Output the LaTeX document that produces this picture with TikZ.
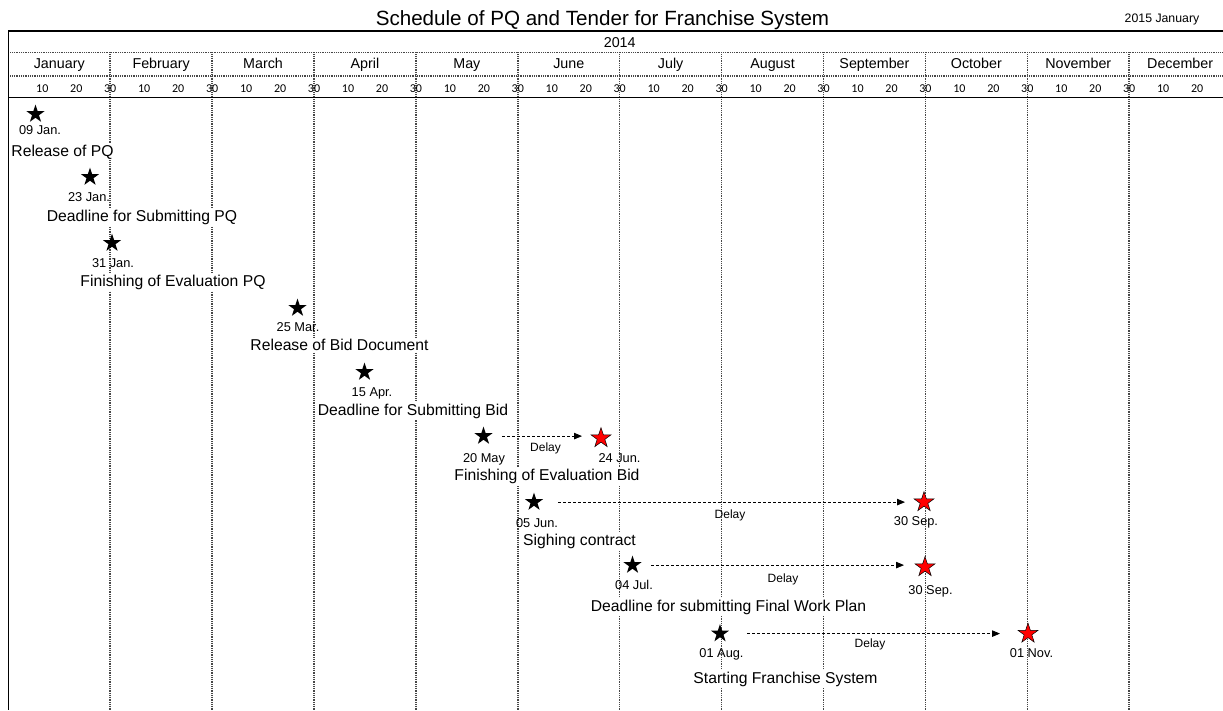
\documentclass[tikz,border=0pt]{standalone}
\usepackage{fontspec}
\setmainfont{Liberation Sans}
\newfontfamily\dayfont{Carlito}
\usetikzlibrary{shapes.geometric,arrows.meta}

\begin{document}
\begin{tikzpicture}[x=1pt,y=-1pt,
  every node/.style={inner sep=0pt,outer sep=0pt},
  frame/.style={draw=black,line width=1.5pt},
  sep/.style={draw=black!72,line width=1.5pt,dash pattern=on 1pt off 0.8pt},
  titlelbl/.style={font=\fontsize{20.6}{24}\selectfont,anchor=base},
  notelbl/.style={font=\fontsize{12.3}{14}\selectfont,anchor=base},
  monthlbl/.style={font=\fontsize{14.3}{16}\selectfont,anchor=base},
  daylbl/.style={font=\dayfont\fontsize{12}{13}\selectfont,anchor=base},
  milestone/.style={star,star points=5,star point ratio=2.6,minimum size=19pt,
    inner sep=0pt,fill=black},
  late/.style={star,star points=5,star point ratio=2.6,minimum size=21pt,
    inner sep=0pt,fill=red,draw=black,line width=0.5pt},
  datelbl/.style={font=\fontsize{12.8}{14}\selectfont,anchor=base},
  event/.style={font=\fontsize{15.7}{18}\selectfont,anchor=base,fill=white,inner sep=1.5pt},
  delaylbl/.style={font=\fontsize{12}{14}\selectfont,anchor=base},
  delay/.style={draw=black,line width=0.8pt,dash pattern=on 3pt off 2pt,
    -{Triangle[length=8pt,width=6.5pt]}}
]
\useasboundingbox (0,0) rectangle (1223,710);

% title
\node[titlelbl] (title) at (602.5,25) {Schedule of PQ and Tender for Franchise System};
\node[notelbl] (issue) at (1162,22) {2015 January};

% header grid
\draw[frame] (8.3,31) -- (1223,31);
\draw[sep] (8.3,52.3) -- (1223,52.3);
\draw[sep] (8.3,76) -- (1223,76);
\foreach \m in {1,...,11}
  \draw[sep] ({8.3+101.9*\m},52.3) -- ({8.3+101.9*\m},710);
\draw[frame] (8.3,97.3) -- (1223,97.3);
\draw[frame] (8.3,31) -- (8.3,710);

\node[monthlbl] (year) at (619.7,47) {2014};
\foreach \name [count=\i from 0] in {January,February,March,April,May,June,July,August,September,October,November,December}{
  \node[monthlbl] (month-\i) at ({8.3+101.9*(\i+0.5)},68.5) {\name};
  \node[daylbl] (d10-\i) at ({8.3+101.9*\i+34},92) {10};
  \node[daylbl] (d20-\i) at ({8.3+101.9*\i+68},92) {20};
}
\foreach \i in {0,...,10}
  \node[daylbl] (d30-\i) at ({8.3+101.9*(\i+1)},92) {30};

% milestones
\node[milestone] (s1) at (35.5,114.1) {};
\node[datelbl] (t1) at (40,134) {09 Jan.};
\node[event] (e1) at (62.5,156) {Release of PQ};

\node[milestone] (s2) at (90,177.1) {};
\node[datelbl] (t2) at (89,201) {23 Jan.};
\node[event] (e2) at (142,221) {Deadline for Submitting PQ};

\node[milestone] (s3) at (112,243.1) {};
\node[datelbl] (t3) at (113,267) {31 Jan.};
\node[event] (e3) at (173,286) {Finishing of Evaluation PQ};

\node[milestone] (s4) at (297.5,308.1) {};
\node[datelbl] (t4) at (298,331) {25 Mar.};
\node[event] (e4) at (339.5,350.5) {Release of Bid Document};

\node[milestone] (s5) at (364.5,372.1) {};
\node[datelbl] (t5) at (372,396) {15 Apr.};
\node[event] (e5) at (413,415) {Deadline for Submitting Bid};

\node[milestone] (s6) at (483.5,436.1) {};
\node[datelbl] (t6) at (484,462) {20 May};
\node[late] (r6) at (601,438.1) {};
\node[datelbl] (u6) at (619.5,462) {24 Jun.};
\node[delaylbl] (l6) at (545.5,451.6) {Delay};
\node[event] (e6) at (547,480) {Finishing of Evaluation Bid};

\node[milestone] (s7) at (534,502.1) {};
\node[datelbl] (t7) at (537,527) {05 Jun.};
\node[late] (r7) at (924,502.1) {};
\node[datelbl] (u7) at (916,525.5) {30 Sep.};
\node[delaylbl] (l7) at (730,518.6) {Delay};
\node[event] (e7) at (579.5,545) {Sighing contract};

\node[milestone] (s8) at (632.5,565.1) {};
\node[datelbl] (t8) at (634,589) {04 Jul.};
\node[late] (r8) at (925,567.1) {};
\node[datelbl] (u8) at (930.5,594) {30 Sep.};
\node[delaylbl] (l8) at (783,582.6) {Delay};
\node[event] (e8) at (728.5,611) {Deadline for submitting Final Work Plan};

\node[milestone] (s9) at (720,633.6) {};
\node[datelbl] (t9) at (721.5,657) {01 Aug.};
\node[late] (r9) at (1028,633.6) {};
\node[datelbl] (u9) at (1031.5,657) {01 Nov.};
\node[delaylbl] (l9) at (870,647.6) {Delay};
\node[event] (e9) at (785.5,683) {Starting Franchise System};

% delays
\draw[delay] ([xshift=18.5pt]s6.center) -- ([xshift=-19pt]r6.center |- s6.center);
\draw[delay] ([xshift=24pt]s7.center) -- ([xshift=-19pt]r7.center |- s7.center);
\draw[delay] ([xshift=18.5pt]s8.center) -- ([xshift=-21pt]r8.center |- s8.center);
\draw[delay] ([xshift=27pt]s9.center) -- ([xshift=-28pt]r9.center |- s9.center);
\end{tikzpicture}
\end{document}
